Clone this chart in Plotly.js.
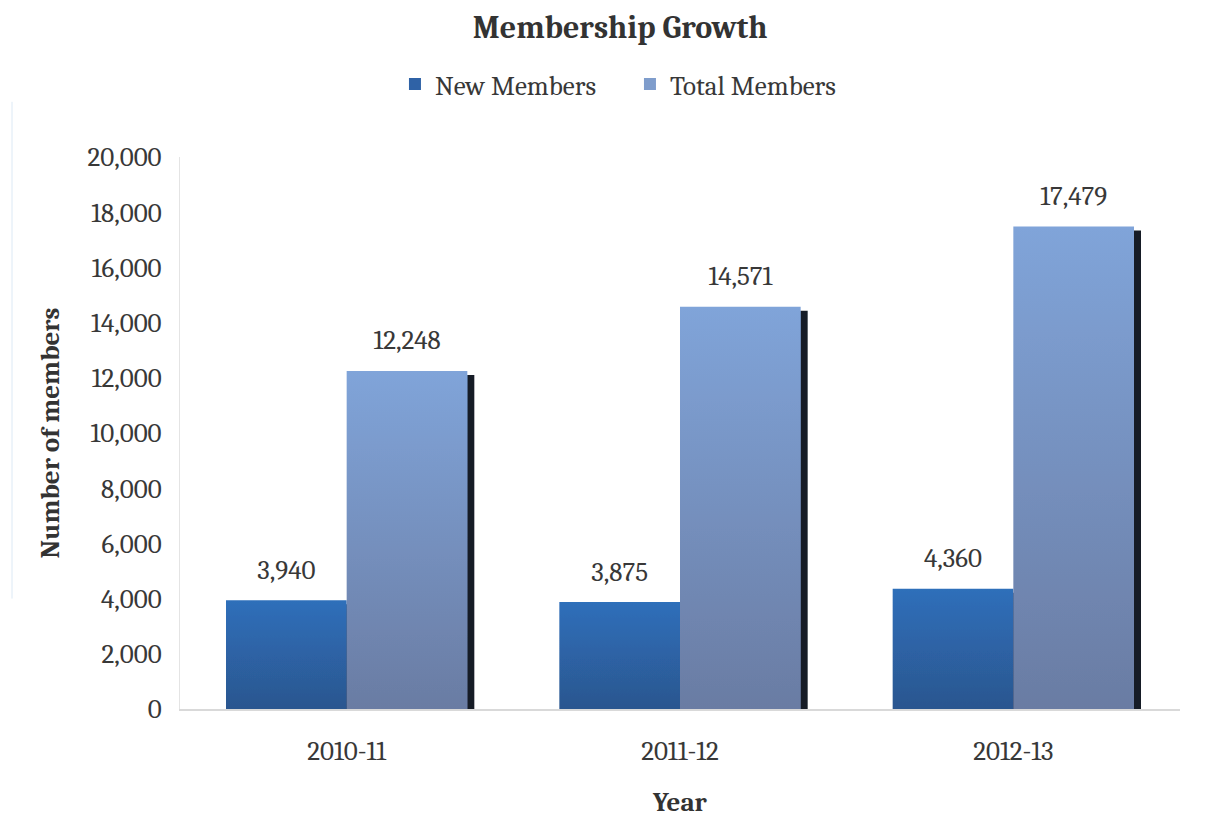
<!DOCTYPE html>
<html>
<head>
<meta charset="utf-8">
<script src="https://cdn.plot.ly/plotly-3.0.1.min.js"></script>
<style>
  html, body { margin: 0; padding: 0; background: #ffffff; }
  #chart { width: 1228px; height: 828px; }
</style>
</head>
<body>
<div id="chart"></div>
<script>
// Membership figures per financial year
const years = ['2010-11', '2011-12', '2012-13'];
const newMembers = [3940, 3875, 4360];
const totalMembers = [12248, 14571, 17479];
const seriesNames = ['New Members', 'Total Members'];

const FONT = 'Cambria, "Liberation Serif", "DejaVu Serif", serif';
const TXT = '#383838';
const SIZE = 27;

const fmt = v => v.toLocaleString('en-US');

const traces = [
  {
    type: 'bar', name: seriesNames[0], x: years, y: newMembers,
    offsetgroup: 'a', marker: { color: '#2f62a6', line: { width: 0 } },
    hoverinfo: 'x+y'
  },
  {
    type: 'bar', name: seriesNames[1], x: years, y: totalMembers,
    offsetgroup: 'b', marker: { color: '#7f9dcc', line: { width: 0 } },
    hoverinfo: 'x+y'
  },
  // value labels sitting above each bar
  {
    type: 'scatter', mode: 'markers+text', x: years, y: newMembers,
    offsetgroup: 'a', text: newMembers.map(fmt), textposition: 'top center',
    marker: { size: 22, opacity: 0 }, showlegend: false, hoverinfo: 'skip',
    textfont: { family: FONT, size: SIZE, color: TXT }
  },
  {
    type: 'scatter', mode: 'markers+text', x: years, y: totalMembers,
    offsetgroup: 'b', text: totalMembers.map(fmt), textposition: 'top center',
    marker: { size: 22, opacity: 0 }, showlegend: false, hoverinfo: 'skip',
    textfont: { family: FONT, size: SIZE, color: TXT }
  }
];

const layout = {
  width: 1228, height: 828,
  paper_bgcolor: '#ffffff', plot_bgcolor: '#ffffff',
  margin: { l: 180, r: 48, t: 157, b: 119 },
  font: { family: FONT, size: SIZE, color: TXT },
  barmode: 'group', bargap: 0.276, bargroupgap: 0,
  scattermode: 'group', scattergap: 0.276,
  title: {
    text: '<b>Membership Growth</b>',
    font: { family: FONT, size: 32, color: '#333333' },
    x: 0.505, xref: 'container', xanchor: 'center',
    y: 0.968, yref: 'container', yanchor: 'middle'
  },
  legend: {
    orientation: 'h', x: 0.513, xref: 'container', xanchor: 'center',
    y: 0.898, yref: 'container', yanchor: 'middle',
    entrywidth: 190,
    font: { family: FONT, size: SIZE, color: TXT },
    itemclick: false, itemdoubleclick: false
  },
  xaxis: {
    type: 'category', range: [-0.5, 2.5],
    showgrid: false, zeroline: false,
    showline: true, linecolor: '#d9d9d9', linewidth: 2,
    ticks: 'outside', ticklen: 17, tickcolor: 'rgba(0,0,0,0)',
    tickfont: { family: FONT, size: SIZE, color: TXT },
    title: { text: '<b>Year</b>', font: { family: FONT, size: SIZE, color: '#333333' }, standoff: 26 }
  },
  yaxis: {
    range: [0, 20000], dtick: 2000, tickformat: ',d',
    showgrid: false, zeroline: false,
    showline: true, linecolor: '#e4e4e4', linewidth: 1,
    ticks: 'outside', ticklen: 12, tickcolor: 'rgba(0,0,0,0)',
    tickfont: { family: FONT, size: SIZE, color: TXT },
    title: { text: '<b>Number of members</b>', font: { family: FONT, size: SIZE, color: '#333333' }, standoff: 20 }
  },
  shapes: [
    { type: 'line', xref: 'paper', yref: 'paper', x0: -0.168, x1: -0.168, y0: 0.2, y1: 1.1,
      line: { color: '#dce9f5', width: 1 } }
  ],
  showlegend: true
};

// vertical gradient fills and a dark offset shadow, like the original bar style
function styleBars(gd) {
  const svg = gd.querySelector('.main-svg');
  const ns = 'http://www.w3.org/2000/svg';
  let defs = svg.querySelector('defs');
  if (!defs) { defs = document.createElementNS(ns, 'defs'); svg.insertBefore(defs, svg.firstChild); }
  const grads = [
    ['gradNew', '#2f6fba', '#2b568f'],
    ['gradTotal', '#80a4d9', '#6a7ca3']
  ];
  grads.forEach(([id, top, bot]) => {
    const g = document.createElementNS(ns, 'linearGradient');
    g.setAttribute('id', id);
    g.setAttribute('x1', '0'); g.setAttribute('y1', '0');
    g.setAttribute('x2', '0'); g.setAttribute('y2', '1');
    [[0, top], [1, bot]].forEach(([o, c]) => {
      const s = document.createElementNS(ns, 'stop');
      s.setAttribute('offset', o); s.setAttribute('stop-color', c);
      g.appendChild(s);
    });
    defs.appendChild(g);
  });
  const f = document.createElementNS(ns, 'filter');
  f.setAttribute('id', 'barShadow');
  f.setAttribute('x', '-10%'); f.setAttribute('y', '-10%');
  f.setAttribute('width', '130%'); f.setAttribute('height', '130%');
  const ds = document.createElementNS(ns, 'feDropShadow');
  ds.setAttribute('dx', '7'); ds.setAttribute('dy', '4');
  ds.setAttribute('stdDeviation', '0.7');
  ds.setAttribute('flood-color', '#161b25'); ds.setAttribute('flood-opacity', '1');
  f.appendChild(ds);
  defs.appendChild(f);

  const barTraces = gd.querySelectorAll('.barlayer .trace');
  barTraces.forEach((t, i) => {
    t.querySelectorAll('path').forEach(p => {
      p.style.fill = 'url(#' + grads[i][0] + ')';
      p.setAttribute('filter', 'url(#barShadow)');
    });
  });
}

Plotly.newPlot('chart', traces, layout, { displayModeBar: false, staticPlot: true })
  .then(styleBars);
</script>
</body>
</html>
